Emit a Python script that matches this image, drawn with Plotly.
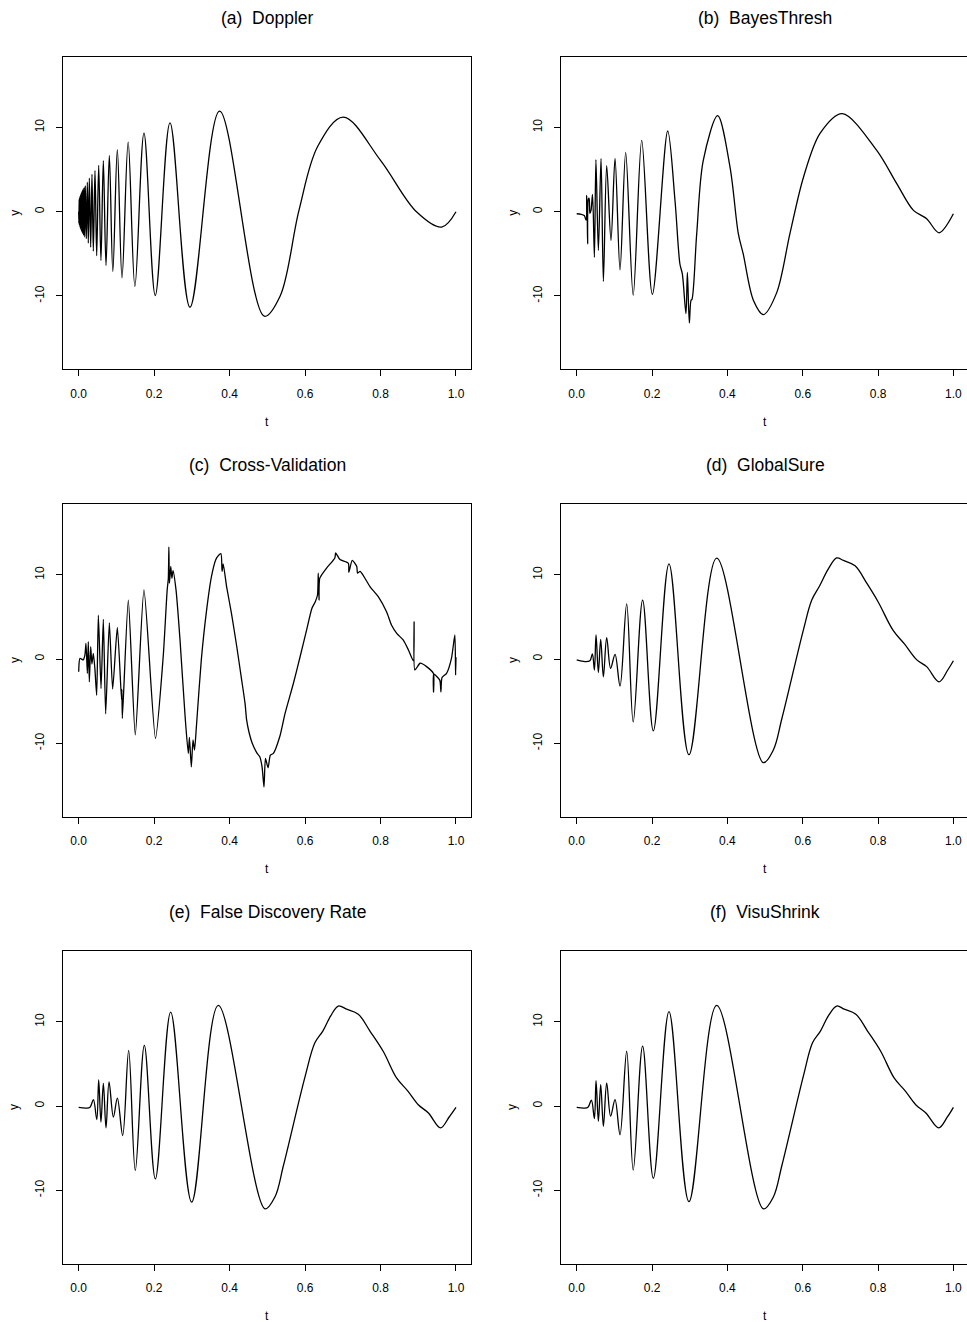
import plotly.graph_objects as go

W, H = 967, 1322

titles = ["(a)  Doppler", "(b)  BayesThresh", "(c)  Cross-Validation",
          "(d)  GlobalSure", "(e)  False Discovery Rate", "(f)  VisuShrink"]
x_tickvals = [0, 0.2, 0.4, 0.6, 0.8, 1.0]
x_ticktext = ["0.0", "0.2", "0.4", "0.6", "0.8", "1.0"]
y_tickvals = [-10, 0, 10]
y_ticktext = ["-10", "0", "10"]

# (a) Doppler
t_a = [0.0, 0.0006, 0.0012, 0.0019, 0.0026, 0.0033, 0.0041, 0.0049, 0.0057, 0.0066,
       0.0075, 0.0085, 0.0095, 0.0106, 0.0118, 0.0131, 0.0145, 0.016, 0.0176, 0.0203,
       0.0229, 0.0255, 0.0282, 0.0318, 0.0352, 0.0388, 0.0432, 0.0477, 0.053, 0.059,
       0.0653, 0.0724, 0.0812, 0.0905, 0.1024, 0.1148, 0.1311, 0.149, 0.173, 0.203,
       0.242, 0.295, 0.3735, 0.492, 0.534, 0.584, 0.634, 0.701, 0.80, 0.896,
       0.962, 1.0]
y_a = [0.0, -1.4, 1.5, -1.6, 1.7, -1.8, 1.9, -2.0, 2.1, -2.2,
       2.3, -2.4, 2.5, -2.6, 2.7, -2.8, 2.9, -3.0, 3.1, -3.2,
       3.5, -3.73, 4.0, -4.2, 4.43, -4.68, 4.9, -5.23, 5.5, -5.78,
       6.05, -6.38, 6.69, -7.09, 7.36, -7.84, 8.27, -8.85, 9.32, -9.94,
       10.55, -11.33, 11.95, -12.4, -10.0, 0.2, 7.8, 11.23, 6.1, -0.04,
       -1.83, 0.0]

# (b) BayesThresh
t_b = [0.0, 0.012, 0.02, 0.025, 0.0265, 0.028, 0.029, 0.031, 0.033, 0.035,
       0.038, 0.042, 0.047, 0.051, 0.0575, 0.0646, 0.0708, 0.0796, 0.091, 0.1018,
       0.115, 0.130, 0.150, 0.1726, 0.2009, 0.2416, 0.261, 0.274, 0.2805, 0.290,
       0.2938, 0.299, 0.3035, 0.306, 0.3186, 0.336, 0.3743, 0.407, 0.429, 0.442,
       0.469, 0.4956, 0.531, 0.566, 0.602, 0.646, 0.705, 0.796,
       0.85, 0.894, 0.929, 0.962, 1.0]
y_b = [-0.24, -0.3, -0.45, -1.0, 1.94, -0.5, -3.8, 1.5, 1.6, -0.2,
       0.16, 2.06, -5.4, 6.18, -4.6, 6.33, -8.27, 5.46, -3.4, 6.33,
       -6.9, 7.05, -9.9, 8.47, -9.8, 9.58, 1.3, -6.2, -7.4, -12.1,
       -7.2, -13.2, -10.5, -10.4, -2.6, 6.1, 11.4, 5.3, -2.6, -5.0,
       -10.5, -12.2, -9.6, -2.6, 4.1, 9.3, 11.64, 7.3,
       3.3, 0.16, -0.83, -2.5, -0.24]

# (c) Cross-Validation
t_c = [0.0, 0.0034, 0.012, 0.0165, 0.0193, 0.023, 0.0255, 0.0282, 0.0318, 0.035,
       0.0388, 0.043, 0.0477, 0.0521, 0.0592, 0.0653, 0.0715, 0.0812, 0.09, 0.1024,
       0.1135, 0.1145, 0.1157, 0.1315, 0.150, 0.173, 0.2035, 0.224, 0.2345, 0.2375,
       0.239, 0.2405, 0.244, 0.247, 0.250, 0.258, 0.2685, 0.282, 0.2905, 0.2935,
       0.2985, 0.303, 0.307, 0.312, 0.325, 0.339, 0.352, 0.363, 0.368, 0.377,
       0.380, 0.383, 0.392, 0.405, 0.419, 0.432, 0.441, 0.445, 0.451, 0.46,
       0.473, 0.480, 0.486, 0.4911, 0.495, 0.502, 0.508, 0.516, 0.533, 0.547,
       0.569, 0.587, 0.604, 0.618, 0.627, 0.633, 0.635, 0.637, 0.639, 0.657,
       0.679, 0.681, 0.6925, 0.7148, 0.716, 0.725, 0.737, 0.739, 0.746, 0.772,
       0.794, 0.816, 0.829, 0.843, 0.860, 0.874, 0.887, 0.889, 0.891, 0.905,
       0.922, 0.940, 0.9405, 0.941, 0.957, 0.960, 0.963, 0.975, 0.988, 0.997,
       0.999, 1.0]
y_c = [-1.5, 0.08, -0.1, 0.5, 1.86, -1.7, 2.06, -2.7, 1.46, -0.6,
       0.67, -1.2, -4.3, 5.2, -3.5, 4.7, -6.5, 4.3, -3.56, 3.76,
       -4.8, -3.6, -7.05, 7.0, -9.0, 8.2, -9.42, 0.3, 8.2, 9.5,
       13.3, 9.0, 11.0, 9.6, 10.5, 8.2, 2.3, -6.8, -11.2, -9.3,
       -12.8, -9.6, -10.8, -8.0, -0.1, 5.8, 9.8, 11.76, 12.15, 12.5,
       10.4, 11.3, 8.6, 5.4, 1.46, -2.5, -5.3, -7.2, -8.6, -10.0,
       -11.2, -11.6, -12.8, -15.2, -11.8, -12.9, -11.4, -11.2, -9.2, -6.45,
       -2.9, 0.3, 3.44, 6.0, 6.8, 7.6, 10.2, 7.0, 9.6, 10.8,
       12.0, 12.6, 11.8, 11.36, 10.3, 11.7, 10.97, 10.2, 10.4, 8.6,
       7.4, 5.6, 4.04, 3.05, 2.26, 1.07, -0.2, 4.4, -1.3, -0.5,
       -0.9, -1.7, -3.9, -1.8, -2.5, -3.9, -2.2, -1.7, 0.08, 2.85,
       -1.9, 0.2]

# (d) GlobalSure
t_d = [0.0, 0.022, 0.035, 0.0416, 0.047, 0.0513, 0.0575, 0.0637, 0.0708, 0.0796,
       0.090, 0.1018, 0.115, 0.1327, 0.150, 0.175, 0.2035, 0.245, 0.298, 0.3717,
       0.4956, 0.522, 0.545, 0.602, 0.624, 0.645, 0.668, 0.690, 0.708, 0.739,
       0.77, 0.80, 0.84, 0.87, 0.903, 0.929, 0.962, 0.985, 1.0]
y_d = [-0.1, -0.3, -0.2, 0.6, -1.3, 2.86, -1.6, 2.34, -2.1, 2.54,
       -1.1, 0.56, -3.2, 6.55, -7.46, 7.0, -8.53, 11.3, -11.35, 11.98,
       -12.3, -10.8, -7.0, 3.5, 7.0, 8.7, 10.7, 12.0, 11.7, 11.07,
       9.0, 6.8, 3.4, 1.8, -0.1, -0.9, -2.7, -1.3, -0.2]

# (e) False Discovery Rate
t_e = [0.0, 0.02, 0.03, 0.039, 0.048, 0.053, 0.059, 0.0654, 0.0724, 0.0804,
       0.092, 0.1025, 0.1166, 0.1325, 0.150, 0.174, 0.2032, 0.2438, 0.2995, 0.370,
       0.4938, 0.52, 0.543, 0.60, 0.626, 0.647, 0.668, 0.688, 0.71, 0.741,
       0.772, 0.807, 0.843, 0.872, 0.90, 0.927, 0.959, 0.982, 1.0]
y_e = [-0.16, -0.25, -0.15, 0.75, -1.6, 3.1, -1.9, 2.7, -2.6, 2.86,
       -1.3, 0.95, -3.5, 6.6, -7.66, 7.2, -8.65, 11.15, -11.4, 11.94,
       -12.2, -10.8, -7.0, 3.5, 7.5, 8.9, 10.7, 11.87, 11.5, 10.9,
       8.9, 6.5, 3.3, 1.8, 0.16, -0.83, -2.6, -1.3, -0.16]

# (f) VisuShrink
t_f = [0.0, 0.02, 0.03, 0.039, 0.047, 0.0513, 0.0575, 0.0637, 0.0708, 0.0796,
       0.090, 0.1018, 0.115, 0.1327, 0.150, 0.175, 0.2035, 0.245, 0.298, 0.3717,
       0.4956, 0.522, 0.545, 0.602, 0.626, 0.647, 0.668, 0.690, 0.71, 0.741,
       0.772, 0.807, 0.843, 0.872, 0.90, 0.927, 0.961, 0.984, 1.0]
y_f = [-0.16, -0.25, -0.15, 0.7, -1.5, 3.0, -1.8, 2.54, -2.4, 2.74,
       -1.2, 0.75, -3.4, 6.5, -7.6, 7.1, -8.57, 11.2, -11.35, 11.94,
       -12.2, -10.8, -7.0, 3.6, 7.5, 8.9, 10.7, 11.87, 11.5, 10.9,
       8.9, 6.5, 3.3, 1.8, 0.16, -0.83, -2.6, -1.3, -0.16]

series = [(t_a, y_a, 1.0), (t_b, y_b, 0.9), (t_c, y_c, 0.6),
          (t_d, y_d, 1.0), (t_e, y_e, 1.0), (t_f, y_f, 1.0)]

FONT = "Liberation Sans, Arial, Helvetica, sans-serif"

# panel geometry (pixels)
col_x = [(63.3, 470.7), (561.3, 967.0)]
col_xrange = [[-0.0408, 1.039], [-0.0409, 1.0361]]
row_top = [56.7, 504.0, 951.0]
box_h = 312.6
box_w = 407.4
y_range = [-18.7, 18.4]

fig = go.Figure()
annotations = []
for i, (tt, yy, smooth) in enumerate(series):
    r, c = divmod(i, 2)
    k = i + 1
    xa = "x" if k == 1 else f"x{k}"
    ya = "y" if k == 1 else f"y{k}"
    fig.add_trace(go.Scatter(x=tt, y=yy, mode="lines",
                             line=dict(color="black", width=1.3, shape="spline",
                                       smoothing=smooth),
                             xaxis=xa, yaxis=ya, showlegend=False, hoverinfo="skip"))
    x0, x1 = col_x[c]
    top = row_top[r]
    bot = top + box_h
    dom_x = [x0 / W, min(x1 / W, 1.0)]
    dom_y = [1 - bot / H, 1 - top / H]
    axis_common = dict(showline=True, linecolor="black", linewidth=1,
                       ticks="outside", ticklen=6, tickwidth=1, tickcolor="black",
                       showgrid=False, zeroline=False,
                       tickfont=dict(family=FONT, size=12, color="black"))
    fig.layout[("xaxis" if k == 1 else f"xaxis{k}")] = dict(
        domain=dom_x, range=col_xrange[c], anchor=ya, mirror=True,
        tickmode="array", tickvals=x_tickvals, ticktext=x_ticktext,
        ticklabelstandoff=7, **axis_common)
    fig.layout[("yaxis" if k == 1 else f"yaxis{k}")] = dict(
        domain=dom_y, range=y_range, anchor=xa, mirror=(c == 0),
        tickmode="array", tickvals=y_tickvals, ticktext=y_ticktext,
        tickangle=-90, ticklabelstandoff=8, **axis_common)
    cx = x0 + box_w / 2
    annotations.append(dict(text=titles[i], x=cx / W, y=1 - (top - 38.7) / H,
                            xref="paper", yref="paper", showarrow=False,
                            xanchor="center", yanchor="middle",
                            font=dict(family=FONT, size=17.5, color="black")))
    annotations.append(dict(text="t", x=cx / W, y=1 - (bot + 52.4) / H,
                            xref="paper", yref="paper", showarrow=False,
                            xanchor="center", yanchor="middle",
                            font=dict(family=FONT, size=12, color="black")))
    annotations.append(dict(text="y", x=(x0 - 48.5) / W, y=1 - (top + box_h / 2) / H,
                            xref="paper", yref="paper", showarrow=False, textangle=-90,
                            xanchor="center", yanchor="middle",
                            font=dict(family=FONT, size=12, color="black")))

fig.update_layout(width=W, height=H, margin=dict(l=0, r=0, t=0, b=0),
                  paper_bgcolor="white", plot_bgcolor="white",
                  annotations=annotations, showlegend=False)
fig.write_html("out.html",
               config={"displayModeBar": False, "responsive": False},
               post_script="document.body.style.margin='0';"
                           "document.body.style.padding='0';"
                           "document.documentElement.style.overflow='hidden';")
